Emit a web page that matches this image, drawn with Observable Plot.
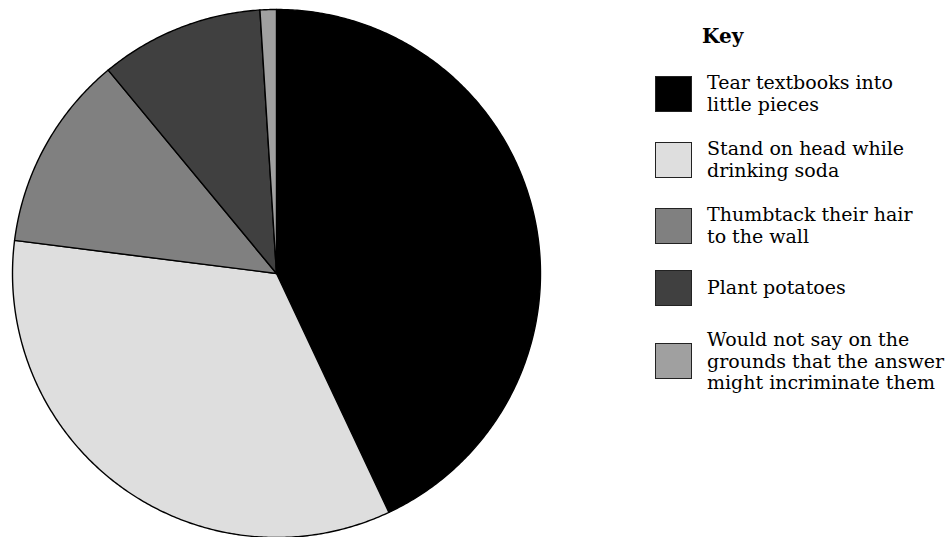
<!DOCTYPE html>
<html>
<head>
<meta charset="utf-8">
<script src="https://cdn.jsdelivr.net/npm/d3@7"></script>
<script src="https://cdn.jsdelivr.net/npm/@observablehq/plot@0.6"></script>
<style>
  html, body { margin: 0; padding: 0; background: #fff; }
  #wrap { position: relative; width: 946px; height: 537px; overflow: hidden; font-family: "DejaVu Serif", serif; }
  #legend { position: absolute; left: 655px; top: 24px; color: #000; white-space: nowrap; }
  #legend .key { margin-left: 47px; font-weight: bold; font-size: 20px; line-height: 24px; height: 24px; }
  #legend .rows { margin-top: 24px; display: flex; flex-direction: column; gap: 23px; }
  #legend .row { display: flex; align-items: center; }
  #legend .sw { width: 35px; height: 34px; border: 1.2px solid #222; flex: none; }
  #legend .lab { margin-left: 15px; font-size: 19px; line-height: 21.5px; }
</style>
</head>
<body>
<div id="wrap">
  <div id="chart"></div>
  <div id="legend"></div>
</div>
<script>
const categories = [
  "Tear textbooks into little pieces",
  "Stand on head while drinking soda",
  "Thumbtack their hair to the wall",
  "Plant potatoes",
  "Would not say on the grounds that the answer might incriminate them"
];
const legendLines = [
  ["Tear textbooks into", "little pieces"],
  ["Stand on head while", "drinking soda"],
  ["Thumbtack their hair", "to the wall"],
  ["Plant potatoes"],
  ["Would not say on the", "grounds that the answer", "might incriminate them"]
];
const values = [43, 34, 12, 10, 1];
const colors = ["#000000", "#dedede", "#808080", "#404040", "#a0a0a0"];

const slices = categories.map((c, i) => ({label: c, value: values[i]}));
const arcs = d3.pie().sort(null).value(d => d.value)(slices);

// polygon outline of each slice, derived from the pie layout
const pts = [];
for (const a of arcs) {
  const lab = a.data.label;
  pts.push({label: lab, x: 0, y: 0});
  const n = Math.max(2, Math.ceil((a.endAngle - a.startAngle) / (Math.PI / 360)));
  for (let k = 0; k <= n; k++) {
    const t = a.startAngle + (a.endAngle - a.startAngle) * k / n;
    pts.push({label: lab, x: Math.sin(t), y: Math.cos(t)});
  }
}

const chart = Plot.plot({
  width: 946,
  height: 537,
  margin: 0,
  x: {domain: [-1, 1], range: [12, 540], axis: null},
  y: {domain: [-1, 1], range: [537, 9], axis: null},
  color: {domain: categories, range: colors},
  marks: [
    Plot.line(pts, {x: "x", y: "y", z: "label", fill: "label", stroke: "#000", strokeWidth: 1.4, curve: "linear-closed", strokeLinejoin: "round"})
  ]
});
document.getElementById("chart").appendChild(chart);

const legend = document.getElementById("legend");
const key = document.createElement("div");
key.className = "key";
key.textContent = "Key";
legend.appendChild(key);
const rows = document.createElement("div");
rows.className = "rows";
categories.forEach((c, i) => {
  const row = document.createElement("div");
  row.className = "row";
  const sw = document.createElement("div");
  sw.className = "sw";
  sw.style.background = colors[i];
  const lab = document.createElement("div");
  lab.className = "lab";
  lab.innerHTML = legendLines[i].join("<br>");
  row.appendChild(sw);
  row.appendChild(lab);
  rows.appendChild(row);
});
legend.appendChild(rows);
</script>
</body>
</html>
